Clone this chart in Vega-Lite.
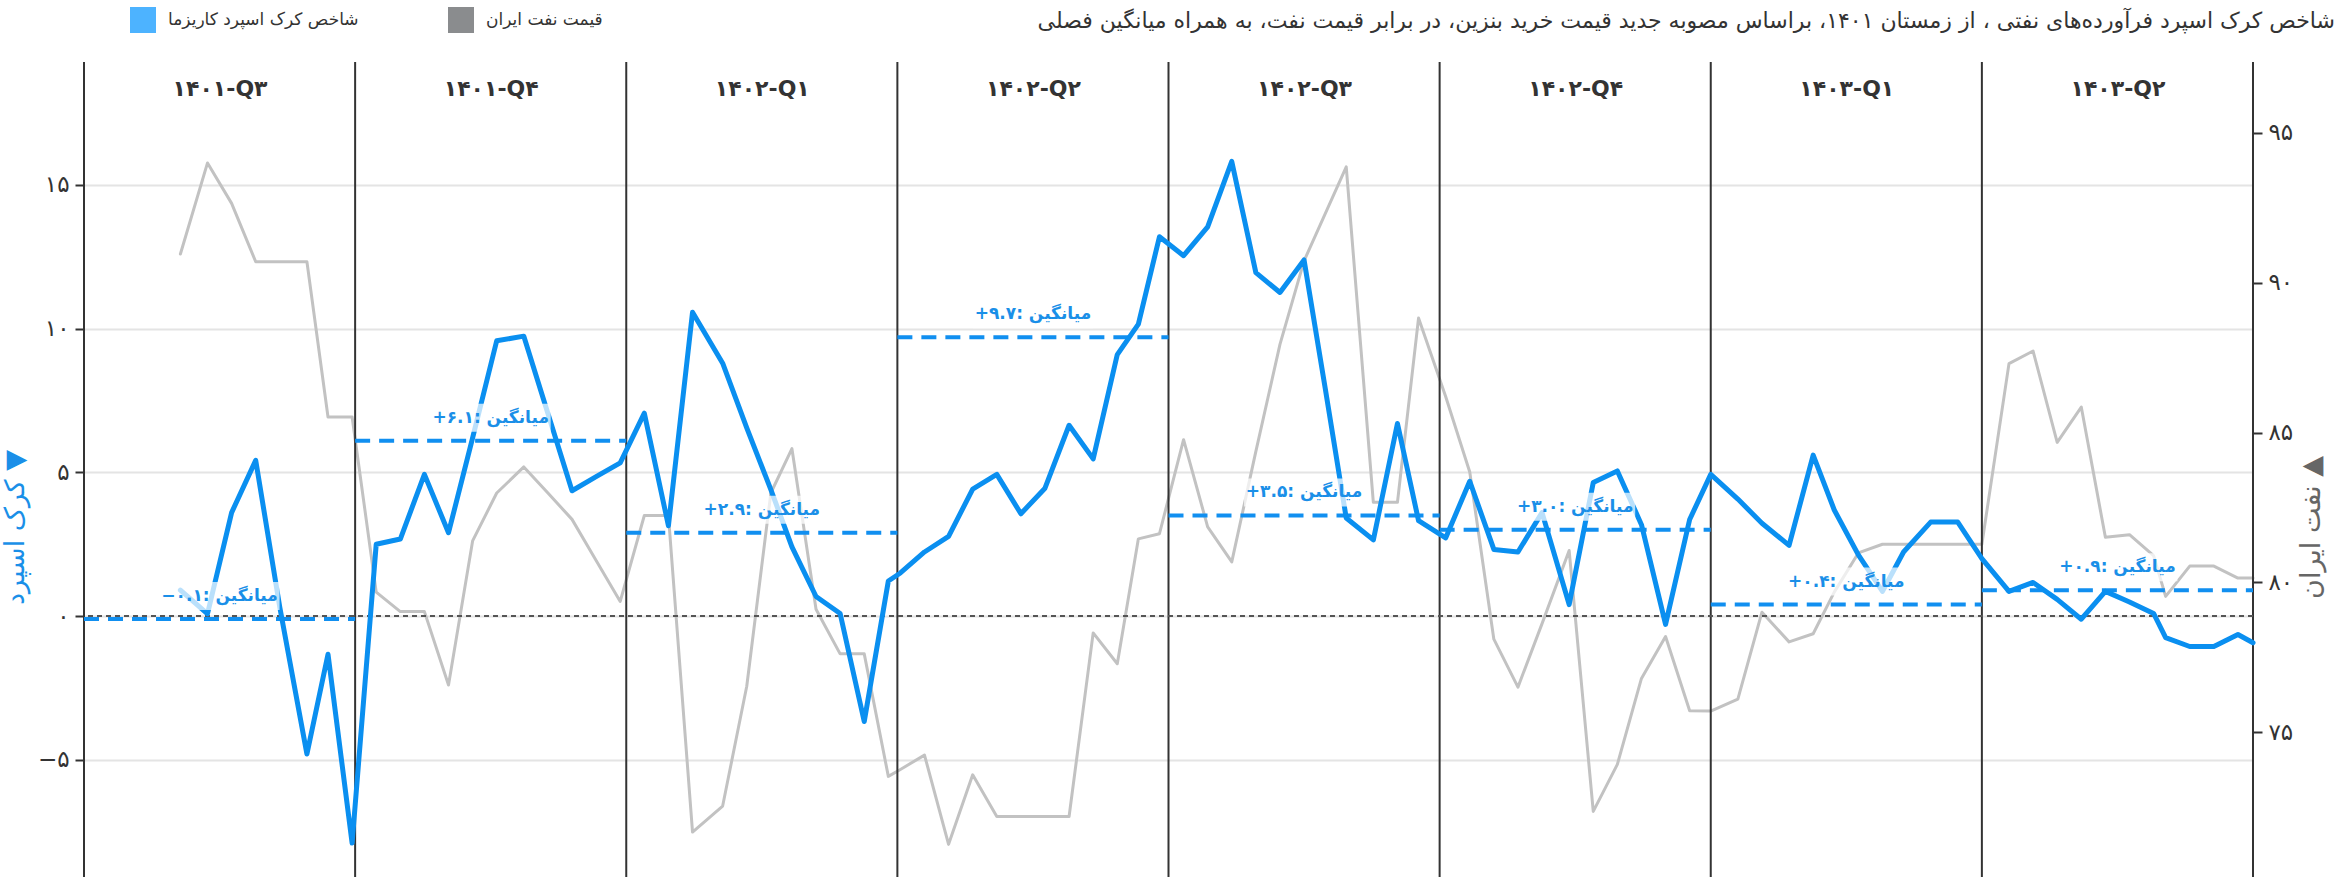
{
  "$schema": "https://vega.github.io/schema/vega-lite/v6.json",
  "width": 2169,
  "height": 815,
  "autosize": {"type": "none"},
  "padding": {"left": 84, "top": 62, "right": 91, "bottom": 0},
  "background": "white",
  "config": {"font": "DejaVu Sans", "view": {"stroke": null}},
  "title": {
    "text": "شاخص کرک اسپرد فرآورده‌های نفتی ، از زمستان ۱۴۰۱، براساس مصوبه جدید قیمت خرید بنزین، در برابر قیمت نفت، به همراه میانگین فصلی",
    "anchor": "end",
    "orient": "top",
    "frame": "group",
    "dx": 82,
    "dy": 46,
    "offset": 20,
    "fontSize": 22,
    "font": "DejaVu Sans",
    "fontWeight": "normal",
    "color": "#333333"
  },
  "datasets": {
    "series": [
      {"d": 32, "s": 0.9, "p": 90.96},
      {"d": 41, "s": 0.08, "p": 94.0},
      {"d": 49, "s": 3.6, "p": 92.65},
      {"d": 57, "s": 5.42, "p": 90.7},
      {"d": 65, "s": 0.3, "p": 90.7},
      {"d": 74, "s": -4.8, "p": 90.7},
      {"d": 81, "s": -1.33, "p": 85.52},
      {"d": 89, "s": -7.9, "p": 85.52},
      {"d": 97, "s": 2.5, "p": 79.67},
      {"d": 105, "s": 2.68, "p": 79.02},
      {"d": 113, "s": 4.93, "p": 79.02},
      {"d": 121, "s": 2.9, "p": 76.57},
      {"d": 129, "s": 6.2, "p": 81.38},
      {"d": 137, "s": 9.58, "p": 82.98},
      {"d": 146, "s": 9.74, "p": 83.85},
      {"d": 154, "s": 7.05, "p": 82.98},
      {"d": 162, "s": 4.36, "p": 82.1},
      {"d": 170, "s": 4.85, "p": 80.73},
      {"d": 178, "s": 5.33, "p": 79.36},
      {"d": 186, "s": 7.06, "p": 82.23},
      {"d": 194, "s": 3.14, "p": 82.23},
      {"d": 202, "s": 10.57, "p": 71.66},
      {"d": 212, "s": 8.8, "p": 72.53},
      {"d": 220, "s": 6.55, "p": 76.53},
      {"d": 228, "s": 4.4, "p": 82.98},
      {"d": 235, "s": 2.41, "p": 84.46},
      {"d": 243, "s": 0.68, "p": 79.1},
      {"d": 251, "s": 0.09, "p": 77.61},
      {"d": 259, "s": -3.67, "p": 77.61},
      {"d": 267, "s": 1.22, "p": 73.52},
      {"d": 271, "s": 1.5, "p": 73.75},
      {"d": 279, "s": 2.23, "p": 74.23},
      {"d": 287, "s": 2.77, "p": 71.25},
      {"d": 295, "s": 4.42, "p": 73.57},
      {"d": 303, "s": 4.93, "p": 72.18},
      {"d": 311, "s": 3.56, "p": 72.18},
      {"d": 319, "s": 4.45, "p": 72.18},
      {"d": 327, "s": 6.64, "p": 72.18},
      {"d": 335, "s": 5.47, "p": 78.31},
      {"d": 343, "s": 9.1, "p": 77.28},
      {"d": 350, "s": 10.16, "p": 81.45},
      {"d": 357, "s": 13.2, "p": 81.62},
      {"d": 365, "s": 12.54, "p": 84.76},
      {"d": 373, "s": 13.54, "p": 81.85},
      {"d": 381, "s": 15.82, "p": 80.68},
      {"d": 389, "s": 11.95, "p": 84.37},
      {"d": 397, "s": 11.26, "p": 87.94},
      {"d": 405, "s": 12.39, "p": 90.73},
      {"d": 412, "s": 7.94, "p": 92.3},
      {"d": 419, "s": 3.41, "p": 93.87},
      {"d": 428, "s": 2.65, "p": 82.67},
      {"d": 436, "s": 6.7, "p": 82.67},
      {"d": 443, "s": 3.32, "p": 88.82},
      {"d": 452, "s": 2.72, "p": 86.2},
      {"d": 460, "s": 4.69, "p": 83.68},
      {"d": 468, "s": 2.32, "p": 78.1},
      {"d": 476, "s": 2.23, "p": 76.5},
      {"d": 484, "s": 3.6, "p": 78.62},
      {"d": 493, "s": 0.4, "p": 81.06},
      {"d": 501, "s": 4.65, "p": 72.35},
      {"d": 509, "s": 5.05, "p": 73.92},
      {"d": 517, "s": 3.18, "p": 76.79},
      {"d": 525, "s": -0.29, "p": 78.19},
      {"d": 533, "s": 3.36, "p": 75.71},
      {"d": 540, "s": 4.93, "p": 75.7},
      {"d": 549, "s": 4.07, "p": 76.1},
      {"d": 557, "s": 3.23, "p": 79.0},
      {"d": 566, "s": 2.46, "p": 78.01},
      {"d": 574, "s": 5.6, "p": 78.28},
      {"d": 581, "s": 3.69, "p": 79.67},
      {"d": 589, "s": 2.13, "p": 80.98},
      {"d": 597, "s": 0.86, "p": 81.27},
      {"d": 604, "s": 2.23, "p": 81.27},
      {"d": 613, "s": 3.27, "p": 81.27},
      {"d": 622, "s": 3.27, "p": 81.27},
      {"d": 630, "s": 2.0, "p": 81.27},
      {"d": 639, "s": 0.86, "p": 87.3},
      {"d": 647, "s": 1.17, "p": 87.72},
      {"d": 655, "s": 0.58, "p": 84.67},
      {"d": 663, "s": -0.11, "p": 85.85},
      {"d": 671, "s": 0.86, "p": 81.5},
      {"d": 679, "s": 0.49, "p": 81.59},
      {"d": 687, "s": 0.09, "p": 80.89},
      {"d": 691, "s": -0.75, "p": 79.53},
      {"d": 699, "s": -1.06, "p": 80.54},
      {"d": 707, "s": -1.06, "p": 80.54},
      {"d": 715, "s": -0.64, "p": 80.14},
      {"d": 720, "s": -0.93, "p": 80.14}
    ],
    "quarters": [
      {"q": "1401-Q3", "st": 0, "en": 90, "m": 45, "avg": -0.1, "lab": "−۰.۱: میانگین"},
      {"q": "1401-Q4", "st": 90, "en": 180, "m": 135, "avg": 6.1, "lab": "+۶.۱: میانگین"},
      {"q": "1402-Q1", "st": 180, "en": 270, "m": 225, "avg": 2.9, "lab": "+۲.۹: میانگین"},
      {"q": "1402-Q2", "st": 270, "en": 360, "m": 315, "avg": 9.7, "lab": "+۹.۷: میانگین"},
      {"q": "1402-Q3", "st": 360, "en": 450, "m": 405, "avg": 3.5, "lab": "+۳.۵: میانگین"},
      {"q": "1402-Q4", "st": 450, "en": 540, "m": 495, "avg": 3.0, "lab": "+۳.۰: میانگین"},
      {"q": "1403-Q1", "st": 540, "en": 630, "m": 585, "avg": 0.4, "lab": "+۰.۴: میانگین"},
      {"q": "1403-Q2", "st": 630, "en": 720, "m": 675, "avg": 0.9, "lab": "+۰.۹: میانگین"}
    ],
    "bounds": [
      {"b": 0}, {"b": 90}, {"b": 180}, {"b": 270}, {"b": 360},
      {"b": 450}, {"b": 540}, {"b": 630}, {"b": 720}
    ]
  },
  "layer": [
    {
      "data": {"name": "series"},
      "mark": {"type": "line", "strokeWidth": 3, "strokeJoin": "round", "strokeCap": "round"},
      "encoding": {
        "x": {"field": "d", "type": "quantitative", "scale": {"domain": [0, 720], "nice": false, "zero": false}},
        "y": {
          "field": "p", "type": "quantitative",
          "scale": {"domain": [70.16, 97.37], "nice": false, "zero": false},
          "axis": {
            "orient": "right",
            "values": [75, 80, 85, 90, 95],
            "grid": false,
            "domain": false,
            "ticks": true,
            "tickSize": 9,
            "tickWidth": 2,
            "tickColor": "#333333",
            "labelFontSize": 23,
            "labelFont": "DejaVu Sans",
            "labelColor": "#333333",
            "labelPadding": 6,
            "labelExpr": "datum.value == 95 ? '۹۵' : datum.value == 90 ? '۹۰' : datum.value == 85 ? '۸۵' : datum.value == 80 ? '۸۰' : '۷۵'",
            "title": "نفت ایران ▲",
            "titleColor": "#666666",
            "titleFont": "DejaVu Sans",
            "titleFontSize": 27,
            "titleFontWeight": "normal",
            "titleAngle": -90,
            "titleX": 58,
            "titleY": 465,
            "titleAlign": "center",
            "titleBaseline": "middle"
          }
        },
        "color": {
          "datum": "قیمت نفت ایران",
          "scale": {"domain": ["شاخص کرک اسپرد کاریزما", "قیمت نفت ایران"], "range": ["#0a8ff0", "#c2c2c2"]},
          "legend": {
            "orient": "none",
            "legendX": 46,
            "legendY": -55,
            "direction": "horizontal",
            "title": null,
            "symbolType": "square",
            "symbolSize": 676,
            "labelFontSize": 17,
            "labelFont": "DejaVu Sans",
            "labelColor": "#333333",
            "labelOffset": 12,
            "labelLimit": 500,
            "columnPadding": 89,
            "encode": {
              "symbols": {
                "update": {
                  "fill": {"signal": "datum.value === 'شاخص کرک اسپرد کاریزما' ? '#4db3ff' : '#8a8c8e'"},
                  "stroke": {"value": "transparent"},
                  "strokeWidth": {"value": 0},
                  "opacity": {"value": 1}
                }
              }
            }
          }
        }
      }
    },
    {
      "layer": [
        {
          "data": {"name": "bounds"},
          "mark": {"type": "rule", "color": "#333333", "strokeWidth": 2},
          "encoding": {
            "x": {"field": "b", "type": "quantitative", "scale": {"domain": [0, 720], "nice": false, "zero": false}}
          }
        },
        {
          "data": {"name": "bounds"},
          "mark": {"type": "rule", "color": "#555555", "strokeWidth": 1.6, "strokeDash": [5, 4]},
          "encoding": {
            "y": {"datum": 0, "type": "quantitative", "scale": {"domain": [-9.08, 19.28], "nice": false, "zero": false}}
          }
        },
        {
          "data": {"name": "quarters"},
          "mark": {"type": "rule", "color": "#118ff0", "strokeWidth": 4, "strokeDash": [15, 9]},
          "encoding": {
            "x": {"field": "st", "type": "quantitative", "scale": {"domain": [0, 720], "nice": false, "zero": false}},
            "x2": {"field": "en"},
            "y": {"field": "avg", "type": "quantitative", "scale": {"domain": [-9.08, 19.28], "nice": false, "zero": false}}
          }
        },
        {
          "data": {"name": "series"},
          "mark": {"type": "line", "strokeWidth": 5, "strokeJoin": "round", "strokeCap": "round"},
          "encoding": {
            "x": {
              "field": "d", "type": "quantitative",
              "scale": {"domain": [0, 720], "nice": false, "zero": false},
              "axis": {
                "orient": "top",
                "values": [45, 135, 225, 315, 405, 495, 585, 675],
                "labelExpr": "datum.value == 45 ? '۱۴۰۱-Q۳' : datum.value == 135 ? '۱۴۰۱-Q۴' : datum.value == 225 ? '۱۴۰۲-Q۱' : datum.value == 315 ? '۱۴۰۲-Q۲' : datum.value == 405 ? '۱۴۰۲-Q۳' : datum.value == 495 ? '۱۴۰۲-Q۴' : datum.value == 585 ? '۱۴۰۳-Q۱' : '۱۴۰۳-Q۲'",
                "ticks": false,
                "tickSize": 0,
                "domain": false,
                "grid": false,
                "labelPadding": -26,
                "labelBaseline": "middle",
                "labelFontSize": 22,
                "labelFont": "DejaVu Sans",
                "labelFontWeight": "bold",
                "labelColor": "#333333",
                "labelFlush": false,
                "title": ""
              }
            },
            "y": {
              "field": "s", "type": "quantitative",
              "scale": {"domain": [-9.08, 19.28], "nice": false, "zero": false},
              "axis": {
                "orient": "left",
                "values": [-5, 0, 5, 10, 15],
                "grid": true,
                "gridColor": "#e4e4e4",
                "gridWidth": 2,
                "domain": false,
                "ticks": true,
                "tickSize": 9,
                "tickWidth": 2,
                "tickColor": "#333333",
                "labelFontSize": 23,
                "labelFont": "DejaVu Sans",
                "labelColor": "#333333",
                "labelPadding": 6,
                "labelExpr": "datum.value == 15 ? '۱۵' : datum.value == 10 ? '۱۰' : datum.value == 5 ? '۵' : datum.value == 0 ? '۰' : '−۵'",
                "title": "کرک اسپرد ▼",
                "titleColor": "#1a8fe8",
                "titleFont": "DejaVu Sans",
                "titleFontSize": 27,
                "titleFontWeight": "normal",
                "titleAngle": -90,
                "titleX": -69,
                "titleY": 465,
                "titleAlign": "center",
                "titleBaseline": "middle"
              }
            },
            "color": {"datum": "شاخص کرک اسپرد کاریزما"}
          }
        },
        {
          "data": {"name": "quarters"},
          "mark": {"type": "tick", "orient": "horizontal", "size": 120, "thickness": 28, "color": "white", "opacity": 0.72, "yOffset": -23},
          "encoding": {
            "x": {"field": "m", "type": "quantitative", "scale": {"domain": [0, 720], "nice": false, "zero": false}},
            "y": {"field": "avg", "type": "quantitative", "scale": {"domain": [-9.08, 19.28], "nice": false, "zero": false}}
          }
        },
        {
          "data": {"name": "quarters"},
          "mark": {"type": "text", "dy": -23, "baseline": "middle", "align": "center", "fontSize": 17, "fontWeight": "bold", "font": "DejaVu Sans", "color": "#1a8fe8"},
          "encoding": {
            "x": {"field": "m", "type": "quantitative", "scale": {"domain": [0, 720], "nice": false, "zero": false}},
            "y": {"field": "avg", "type": "quantitative", "scale": {"domain": [-9.08, 19.28], "nice": false, "zero": false}},
            "text": {"field": "lab", "type": "nominal"}
          }
        }
      ]
    }
  ],
  "resolve": {"scale": {"y": "independent"}}
}
